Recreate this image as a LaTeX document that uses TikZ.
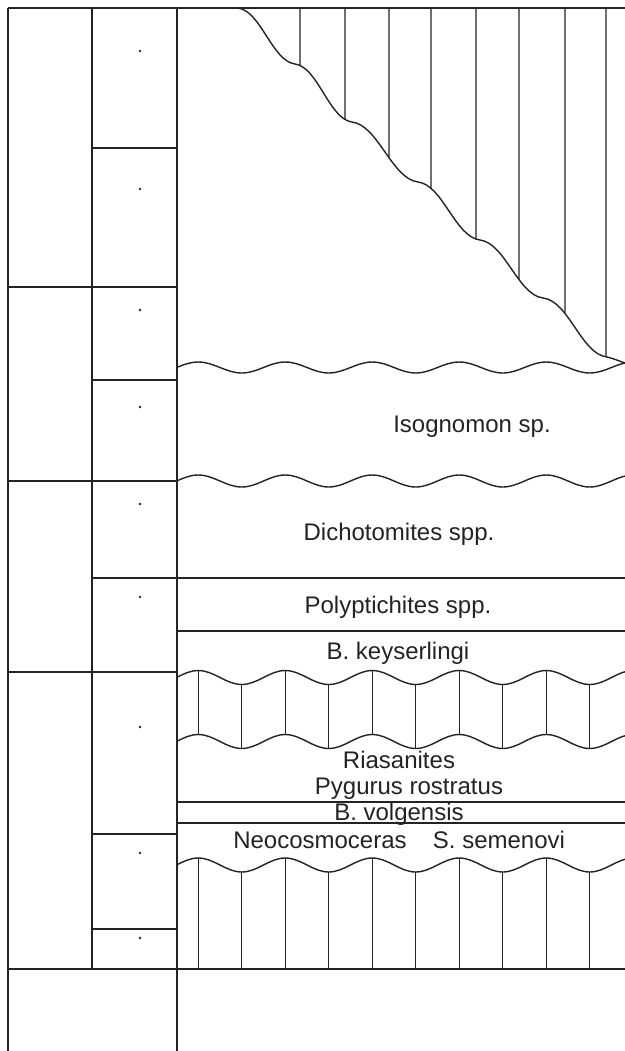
\documentclass[tikz,border=0pt]{standalone}
\usepackage{fontspec}
\setmainfont{Liberation Sans}
\usetikzlibrary{intersections}
\definecolor{ink}{RGB}{35,35,35}
\tikzset{
  rule/.style={draw=ink,line width=0.7pt},
  hatch/.style={draw=ink,line width=0.55pt},
  taxon/.style={anchor=base,inner sep=0pt,text=ink,font=\fontsize{12}{14}\selectfont},
  % erosion surface
  pics/wave/.style={code={
    \draw[rule] (0,0) \foreach \k in {1,...,6}{ sin ++(21.75,-#1) cos ++(21.75,#1) sin ++(21.75,#1) cos ++(21.75,-#1) };
  }},
  pics/wave/.default=6,
}
\begin{document}
\begin{tikzpicture}[x=0.5pt,y=-0.5pt]
  \useasboundingbox (0,0) rectangle (625,1051);
  % columns
  \draw[rule] (8,8) -- (625,8);
  \draw[rule] (8,8) -- (8,1051) (92,8) -- (92,969) (177,8) -- (177,1051);
  \foreach \y in {287,481,672} \draw[rule] (8,\y) -- (177,\y);
  \foreach \y in {148,380,834,929} \draw[rule] (92,\y) -- (177,\y);
  \draw[rule] (92,578) -- (625,578);
  \draw[rule] (8,969) -- (625,969);
  \foreach \y in {631,802,823} \draw[rule] (177,\y) -- (625,\y);
  \foreach \y in {51,189,310,407,504,597,727,853,938} \fill[ink] (140,\y) circle (1.3);
  % hatched wedge at the top
  \draw[rule,name path=stair] (238,8) .. controls (261,11) and (272,61) .. (295,64)
    .. controls (318,67) and (329,119) .. (352,122)
    .. controls (378,125) and (392,179) .. (418,182)
    .. controls (443,185) and (455,237) .. (480,240)
    .. controls (505,243) and (518,295) .. (543,298)
    .. controls (569,301) and (581,354) .. (607,357)
    .. controls (615,359) and (619,361) .. (625,363);
  \foreach \x in {300,345,389,431,476,519,565,606}{
    \path[name path=cut] (\x,8) -- (\x,400);
    \draw[hatch,name intersections={of=stair and cut}] (\x,8) -- (intersection-1);
  }
  % waves and hatched bands
  \begin{scope}
    \clip (177,0) rectangle (625,1051);
    \pic at (176.5,367.5) {wave=5.5};
    \pic at (176.5,481) {wave=6};
    \pic at (176.5,677.5) {wave=7};
    \pic at (176.5,741.5) {wave=7};
    \pic at (176.5,865) {wave=7};
    \foreach \k in {0,...,4}{
      \draw[hatch] (198.25+87*\k,670.5) -- ++(0,64);
      \draw[hatch] (241.75+87*\k,684.5) -- ++(0,64);
      \draw[hatch] (198.25+87*\k,858) -- (198.25+87*\k,969);
      \draw[hatch] (241.75+87*\k,872) -- (241.75+87*\k,969);
    }
  \end{scope}
  \node[taxon] (iso) at (472,432) {Isognomon sp.};
  \node[taxon] (dich) at (399,540) {Dichotomites spp.};
  \node[taxon] (poly) at (398,613) {Polyptichites spp.};
  \node[taxon] (keys) at (398,659) {B. keyserlingi};
  \node[taxon] (rias) at (399,768) {Riasanites};
  \node[taxon] (pyg) at (409,794) {Pygurus rostratus};
  \node[taxon] (volg) at (399,820) {B. volgensis};
  \node[taxon] (neo) at (320,848) {Neocosmoceras};
  \node[taxon] (sem) at (499,848) {S. semenovi};
\end{tikzpicture}
\end{document}
